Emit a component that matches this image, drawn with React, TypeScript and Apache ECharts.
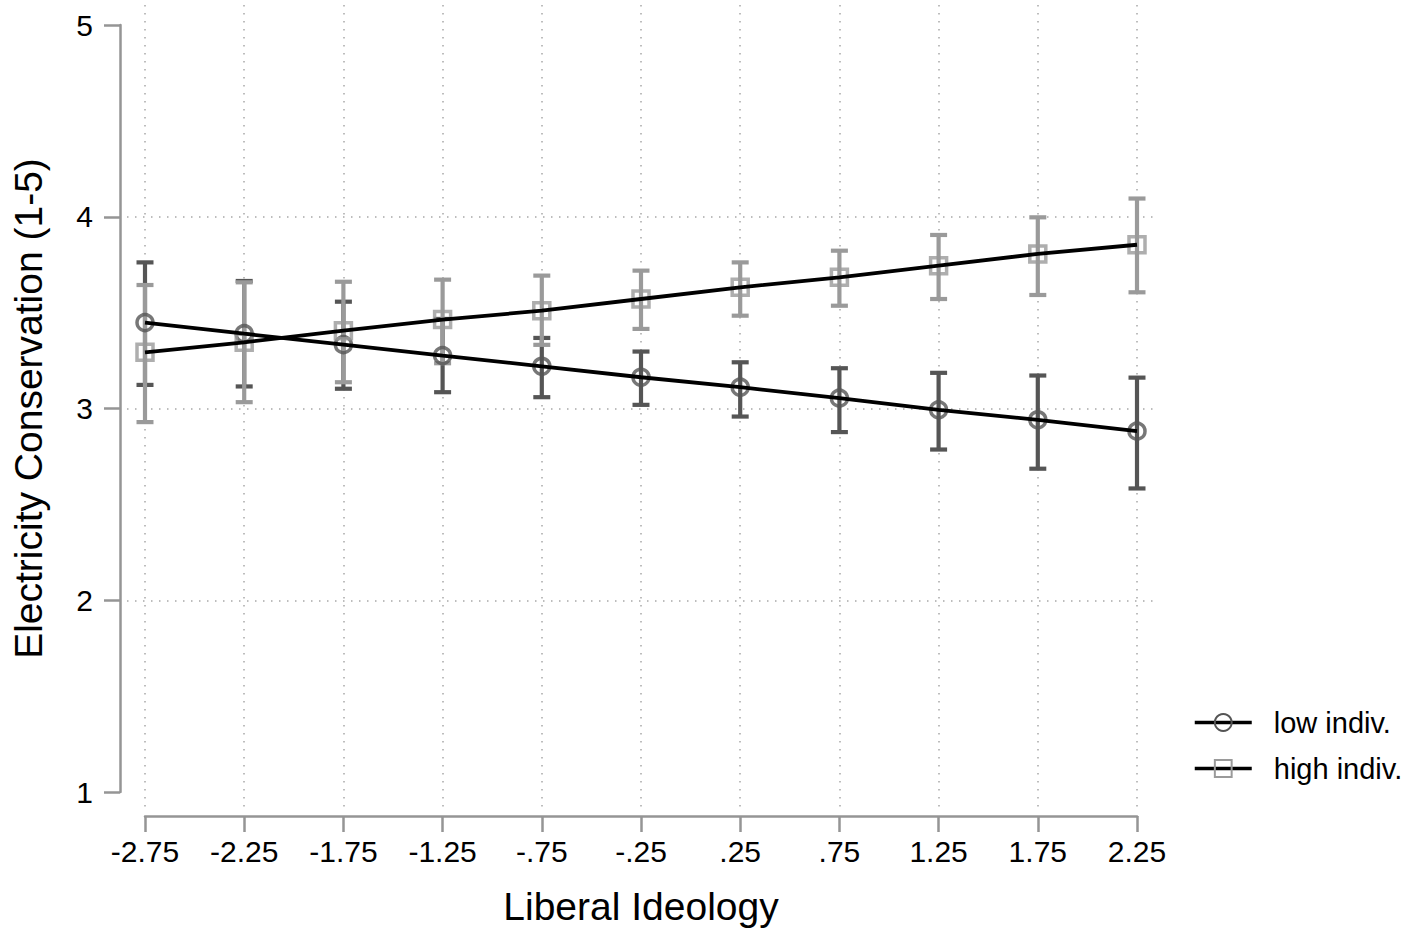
import React, { useEffect, useRef } from "react";
import * as echarts from "echarts";

// ---- data ----
const xValues = [-2.75, -2.25, -1.75, -1.25, -0.75, -0.25, 0.25, 0.75, 1.25, 1.75, 2.25];
const xTickLabels = ["-2.75", "-2.25", "-1.75", "-1.25", "-.75", "-.25", ".25", ".75", "1.25", "1.75", "2.25"];
const yTicks = [1, 2, 3, 4, 5];
const yGridValues = [2, 3, 4];

const lowMean = [3.448, 3.39, 3.333, 3.276, 3.22, 3.163, 3.111, 3.054, 2.993, 2.941, 2.882];
const lowUpper = [3.762, 3.665, 3.557, 3.467, 3.368, 3.297, 3.241, 3.21, 3.186, 3.172, 3.161];
const lowLower = [3.123, 3.115, 3.103, 3.085, 3.059, 3.019, 2.958, 2.877, 2.786, 2.686, 2.583];

const highMean = [3.293, 3.345, 3.406, 3.464, 3.51, 3.571, 3.632, 3.684, 3.745, 3.806, 3.854];
const highUpper = [3.644, 3.658, 3.661, 3.672, 3.693, 3.719, 3.762, 3.823, 3.905, 3.997, 4.095];
const highLower = [2.929, 3.033, 3.137, 3.236, 3.332, 3.415, 3.484, 3.536, 3.571, 3.592, 3.606];

const seriesNames = ["low indiv.", "high indiv."];
const xTitle = "Liberal Ideology";
const yTitle = "Electricity Conservation (1-5)";

// ---- styles ----
const FONT = "Liberation Sans, Arial, Helvetica, sans-serif";
const DARK = "#555555";
const LIGHT = "#9a9a9a";
const AXIS = "#959595";

export default function App() {
  const ref = useRef<HTMLDivElement>(null);

  useEffect(() => {
    if (!ref.current) return;
    const chart = echarts.init(ref.current, undefined, { renderer: "svg" });

    // axes grid (exact ranges)
    const g = { left: 145, right: 280, top: 25, bottom: 147 };
    const W = 1417, H = 939;
    const xMin = xValues[0], xMax = xValues[xValues.length - 1];
    const yMin = yTicks[0], yMax = yTicks[yTicks.length - 1];
    const pxX = (W - g.left - g.right) / (xMax - xMin);
    const pxY = (H - g.top - g.bottom) / (yMax - yMin);
    // outer plot region for gridlines
    const g2 = { left: 127, right: 259, top: 5, bottom: 131 };
    const x2Min = xMin - (g.left - g2.left) / pxX;
    const x2Max = xMax + (g.right - g2.right) / pxX;
    const y2Max = yMax + (g.top - g2.top) / pxY;
    const y2Min = yMin - (g.bottom - g2.bottom) / pxY;

    const labelFor = (v: number) => {
      const i = xValues.findIndex((x) => Math.abs(x - v) < 1e-6);
      return i >= 0 ? xTickLabels[i] : "";
    };

    const errBar = (color: string) => (params: any, api: any) => {
      const x = api.value(0);
      const lo = api.coord([x, api.value(1)]);
      const hi = api.coord([x, api.value(2)]);
      const half = 8.5;
      const st = { stroke: color, lineWidth: 4.2, lineCap: "butt" };
      return {
        type: "group",
        children: [
          { type: "line", shape: { x1: lo[0], y1: lo[1], x2: hi[0], y2: hi[1] }, style: st },
          { type: "line", shape: { x1: lo[0] - half, y1: lo[1], x2: lo[0] + half, y2: lo[1] }, style: st },
          { type: "line", shape: { x1: hi[0] - half, y1: hi[1], x2: hi[0] + half, y2: hi[1] }, style: st },
        ],
      };
    };

    const gridLineStyle = { color: "#a8a8a8", width: 1.5, type: [1.5, 6.5] as any };

    const option: any = {
      animation: false,
      backgroundColor: "#ffffff",
      grid: [
        { left: g.left, right: g.right, top: g.top, bottom: g.bottom, containLabel: false },
        { left: g2.left, right: g2.right, top: g2.top, bottom: g2.bottom, containLabel: false },
      ],
      xAxis: [
        {
          type: "value",
          gridIndex: 0,
          min: xMin,
          max: xMax,
          interval: 0.5,
          offset: 24,
          position: "bottom",
          name: xTitle,
          nameLocation: "middle",
          nameGap: 71,
          nameTextStyle: { fontFamily: FONT, fontSize: 39, color: "#000" },
          axisLine: { show: true, onZero: false, lineStyle: { color: AXIS, width: 2.5 } },
          axisTick: { show: true, length: 16, lineStyle: { color: AXIS, width: 2.5 }, customValues: xValues },
          axisLabel: {
            show: true,
            margin: 20,
            fontFamily: FONT,
            fontSize: 30,
            color: "#000",
            customValues: xValues,
            formatter: (v: number) => labelFor(v),
          },
          splitLine: { show: false },
        },
        {
          type: "value",
          gridIndex: 1,
          min: x2Min,
          max: x2Max,
          axisLine: { show: false, onZero: false },
          axisTick: { show: false, customValues: xValues },
          axisLabel: { show: false, customValues: xValues },
          splitLine: { show: true, lineStyle: gridLineStyle },
        },
      ],
      yAxis: [
        {
          type: "value",
          gridIndex: 0,
          min: yMin,
          max: yMax,
          interval: 1,
          offset: 25,
          position: "left",
          name: yTitle,
          nameLocation: "middle",
          nameGap: 72,
          nameTextStyle: { fontFamily: FONT, fontSize: 39, color: "#000" },
          axisLine: { show: true, onZero: false, lineStyle: { color: AXIS, width: 2.5 } },
          axisTick: { show: true, length: 16, lineStyle: { color: AXIS, width: 2.5 } },
          axisLabel: {
            show: true,
            margin: 27,
            fontFamily: FONT,
            fontSize: 30,
            color: "#000",
            formatter: (v: number) => String(v),
          },
          splitLine: { show: false },
        },
        {
          type: "value",
          gridIndex: 1,
          min: y2Min,
          max: y2Max,
          axisLine: { show: false, onZero: false },
          axisTick: { show: false, customValues: yGridValues },
          axisLabel: { show: false, customValues: yGridValues },
          splitLine: { show: true, lineStyle: gridLineStyle },
        },
      ],
      legend: {
        orient: "vertical",
        left: 1193,
        top: 708,
        padding: 0,
        itemWidth: 57,
        itemHeight: 21,
        itemGap: 17,
        data: seriesNames,
        lineStyle: { color: "#000", width: 3.5 },
        textStyle: { fontFamily: FONT, fontSize: 29, color: "#000", padding: [0, 0, 0, 17] },
        selectedMode: false,
      },
      series: [
        {
          type: "custom",
          name: "low ci",
          xAxisIndex: 0,
          yAxisIndex: 0,
          z: 1,
          renderItem: errBar(DARK),
          encode: { x: 0, y: [1, 2] },
          data: xValues.map((x, i) => [x, lowLower[i], lowUpper[i]]),
          silent: true,
        },
        {
          type: "custom",
          name: "high ci",
          xAxisIndex: 0,
          yAxisIndex: 0,
          z: 2,
          renderItem: errBar(LIGHT),
          encode: { x: 0, y: [1, 2] },
          data: xValues.map((x, i) => [x, highLower[i], highUpper[i]]),
          silent: true,
        },
        {
          type: "scatter",
          name: "low markers",
          xAxisIndex: 0,
          yAxisIndex: 0,
          z: 3,
          symbol: "circle",
          symbolSize: 16,
          itemStyle: { color: "rgba(0,0,0,0)", borderColor: DARK, borderWidth: 3.5 },
          data: xValues.map((x, i) => [x, lowMean[i]]),
          silent: true,
        },
        {
          type: "scatter",
          name: "high markers",
          xAxisIndex: 0,
          yAxisIndex: 0,
          z: 4,
          symbol: "rect",
          symbolSize: 16,
          itemStyle: { color: "rgba(0,0,0,0)", borderColor: LIGHT, borderWidth: 3.5 },
          data: xValues.map((x, i) => [x, highMean[i]]),
          silent: true,
        },
        {
          type: "line",
          name: seriesNames[0],
          xAxisIndex: 0,
          yAxisIndex: 0,
          z: 5,
          symbol: "circle",
          showSymbol: false,
          itemStyle: { color: "rgba(0,0,0,0)", borderColor: DARK, borderWidth: 3 },
          lineStyle: { color: "#000", width: 3.8 },
          data: xValues.map((x, i) => [x, lowMean[i]]),
          silent: true,
        },
        {
          type: "line",
          name: seriesNames[1],
          xAxisIndex: 0,
          yAxisIndex: 0,
          z: 5,
          symbol: "rect",
          showSymbol: false,
          itemStyle: { color: "rgba(0,0,0,0)", borderColor: LIGHT, borderWidth: 3 },
          lineStyle: { color: "#000", width: 3.8 },
          data: xValues.map((x, i) => [x, highMean[i]]),
          silent: true,
        },
      ],
    };

    chart.setOption(option);
    return () => chart.dispose();
  }, []);

  return (
    <div
      ref={ref}
      style={{ position: "fixed", left: 0, top: 0, width: 1417, height: 939, background: "#fff" }}
    />
  );
}
